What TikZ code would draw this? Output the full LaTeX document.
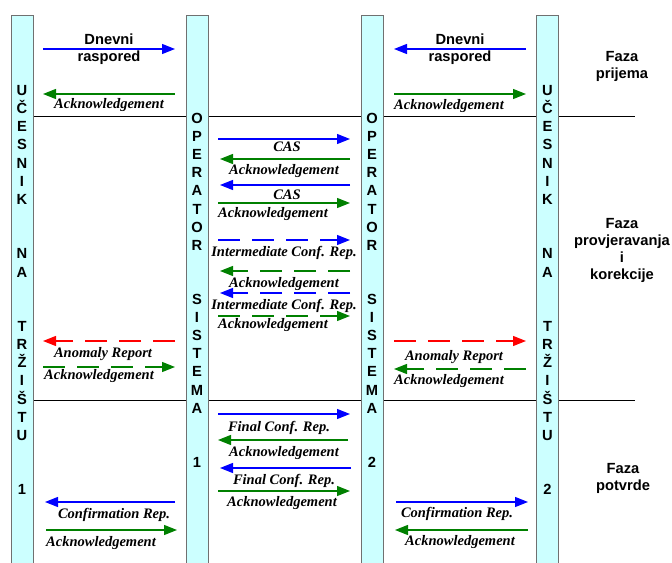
\documentclass[tikz,border=0pt]{standalone}
\usepackage{fontspec}
\usepackage{xcolor}
\usepackage{tikz}
\usetikzlibrary{arrows.meta}
\newfontfamily\naslovfont{Liberation Sans}
\newfontfamily\porukafont{Liberation Serif}
\definecolor{trakaboja}{HTML}{CCFFFF}
\definecolor{trakarub}{HTML}{707070}
\definecolor{zelena}{HTML}{008000}
\tikzset{
  traka/.style = {rectangle, draw=trakarub, fill=trakaboja, line width=0.8bp,
    minimum width=22bp, minimum height=560bp, inner sep=0pt},% vertikalna traka
  slovo/.style = {anchor=base, inner sep=0pt,
    font=\naslovfont\bfseries\fontsize{14.7bp}{17bp}\selectfont},% slovo u traci
  naslov/.style = {align=center, inner sep=0pt,
    font=\naslovfont\bfseries\fontsize{14.7bp}{17bp}\selectfont},% tekst faze
  lbl/.style = {anchor=base, inner sep=0pt,
    font=\porukafont\bfseries\itshape\fontsize{14.5bp}{17bp}\selectfont},% natpis poruke
  poruka/.style = {-{Triangle[length=13bp,width=10bp]}, line width=1.3bp},
  m_b/.style = {poruka, blue},% poruka, plava
  m_g/.style = {poruka, zelena},% potvrda, zelena
  m_bd/.style = {m_b, dash pattern=on 22bp off 12bp},
  m_gd/.style = {m_g, dash pattern=on 22bp off 12bp},
  m_rd/.style = {poruka, red, dash pattern=on 22bp off 12bp},% anomalija
  granica/.style = {line width=0.8bp, black}% granica faza
}
\begin{document}
\begin{tikzpicture}[x=1bp,y=-1bp]
\clip (0,0) rectangle (672,563);
% granice faza
\coordinate (g1a) at (33,116);  \coordinate (g1b) at (635,116);
\coordinate (g2a) at (33,400);  \coordinate (g2b) at (635,400);
\draw [granica] (g1a) -- (g1b);
\draw [granica] (g2a) -- (g2b);
% trake
\node [traka] (ucesnik1) at (22,295) {};
\node [traka] (operator1) at (197,295) {};
\node [traka] (operator2) at (372,295) {};
\node [traka] (ucesnik2) at (547.5,295) {};
\foreach \bx/\br in {22/1,547.5/2}
  \foreach \ch/\k in {U/0,Č/1,E/2,S/3,N/4,I/5,K/6,N/9,A/10,T/13,R/14,Ž/15,
                      I/16,Š/17,T/18,U/19,\br/22}
    \node [slovo] (u\br-\k) at (\bx,95.5+\k*18.15) {\ch};
\foreach \bx/\br in {197/1,372/2}
  \foreach \ch/\k in {O/0,P/1,E/2,R/3,A/4,T/5,O/6,R/7,S/10,I/11,S/12,T/13,
                      E/14,M/15,A/16,\br/19}
    \node [slovo] (o\br-\k) at (\bx,123.5+\k*18.1) {\ch};
% dnevni raspored
\coordinate (p0-a) at (43,49);   \coordinate (p0-b) at (175,49);
\coordinate (d0-a) at (526,49);  \coordinate (d0-b) at (394,49);
\draw [m_b] (p0-a) -- (p0-b);
\draw [m_b] (d0-a) -- (d0-b);
\node [naslov] (p0-t) at (109,49.5) {Dnevni\\raspored};
\node [naslov] (d0-t) at (460,49.5) {Dnevni\\raspored};
% poruke
\foreach \nm/\y/\xa/\xb/\st/\lx/\ly/\txt in {
    p1/94/175/43/m_g/109/109/Acknowledgement,
    p2/341/175/43/m_rd/103/357/Anomaly Report,
    p3/367/43/175/m_gd/99/379/Acknowledgement,
    p4/502/175/45/m_b/114/518/Confirmation Rep.,
    p5/530/46/177/m_g/101/546/Acknowledgement,
    s1/139/218/350/m_b/287/152/CAS,
    s2/159/350/220/m_g/284/175/Acknowledgement,
    s3/185/350/220/m_b/287/200/CAS,
    s4/203/218/350/m_g/273/217/Acknowledgement,
    s5/240/218/350/m_bd/284/256/Intermediate Conf. Rep.,
    s6/271/350/220/m_gd/284/287/Acknowledgement,
    s7/293/350/220/m_bd/284/309/Intermediate Conf. Rep.,
    s8/316/218/350/m_gd/273/328/Acknowledgement,
    s9/414/218/350/m_b/279/431/Final Conf. Rep.,
    s10/440/348/218/m_g/284/456/Acknowledgement,
    s11/468/351/220/m_b/284/484/Final Conf. Rep.,
    s12/491/218/350/m_g/282/506/Acknowledgement,
    d1/94/394/526/m_g/449/110/Acknowledgement,
    d2/341/394/526/m_rd/454/360/Anomaly Report,
    d3/369/526/394/m_gd/449/384/Acknowledgement,
    d4/502/396/528/m_b/457/517/Confirmation Rep.,
    d5/530/528/395/m_g/460/545/Acknowledgement}
{
  \coordinate (\nm-a) at (\xa,\y);
  \coordinate (\nm-b) at (\xb,\y);
  \draw [\st] (\nm-a) -- (\nm-b);
  \node [lbl] (\nm-t) at (\lx,\ly) {\txt};
}
% faze
\node [naslov, anchor=north] (faza1) at (622,51.6) {Faza\\prijema};
\node [naslov, anchor=north] (faza2) at (622,218.6)
  {Faza\\provjeravanja\\i\\korekcije};
\node [naslov, anchor=north] (faza3) at (623,463.6) {Faza\\potvrde};
\end{tikzpicture}
\end{document}
